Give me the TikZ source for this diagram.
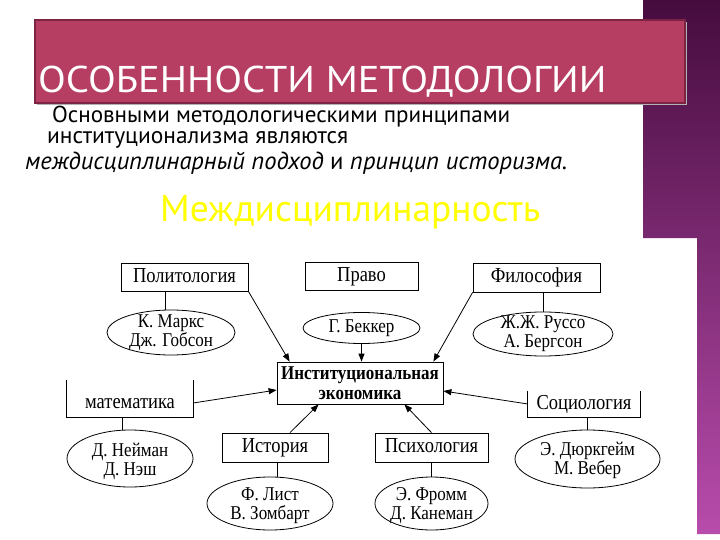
\documentclass[tikz,border=0pt]{standalone}
\usepackage{fontspec}
\usepackage{graphicx}
\usetikzlibrary{shapes.geometric,arrows.meta,calc}
\setmainfont{Liberation Serif}
\newfontfamily\bodyfont{PT Sans}
\newfontfamily\headfont{PT Sans}
\definecolor{titlebar}{RGB}{181,62,98}
\definecolor{titleedge}{RGB}{125,35,68}
\definecolor{plumtop}{RGB}{70,12,62}
\definecolor{plumbot}{RGB}{184,76,172}
\definecolor{sunyellow}{RGB}{255,255,0}
\newcommand\vs[1]{\scalebox{1}[1.15]{#1}}
\begin{document}
\begin{tikzpicture}[x=1pt,y=-1pt,
  box/.style={draw, line width=0.8pt, inner sep=0pt, text height=14pt, text depth=4pt,
    font=\fontsize{18.5}{20}\selectfont},
  openbox/.style={inner sep=0pt, text height=14pt, text depth=4pt, font=\fontsize{18.5}{20}\selectfont},
  pers/.style={draw, ellipse, line width=0.8pt, inner sep=0pt},
  ptext/.style={align=center, inner sep=0pt, font=\fontsize{17}{19}\selectfont},
  link/.style={line width=0.8pt},
  arr/.style={line width=0.8pt, -{Triangle[length=8pt,width=6pt]}},
  headtext/.style={anchor=base west, inner sep=0pt},
]
\useasboundingbox (0,0) rectangle (720,540);
\fill[white] (0,0) rectangle (720,540);
% purple side bar
\shade[top color=plumtop, bottom color=plumbot]
  (643,0) -- (720,0) -- (720,534) -- (697,534) -- (697,238) -- (643,238) -- cycle;
% title bar
\fill[black!30] (37,22) rectangle (687,105);
\fill[titlebar] (35,20) rectangle (685,103);
\draw[titleedge, line width=1.2pt] (35,20) rectangle (685,103);
\node[headtext, text=white] (title) at (38,93)
  {\resizebox{568pt}{26.5pt}{\headfont ОСОБЕННОСТИ МЕТОДОЛОГИИ}};
% body text
\node[headtext] (t1) at (52,123) {\resizebox{458pt}{!}{\bodyfont Основными методологическими принципами}};
\node[headtext] (t2) at (47,144) {\resizebox{301pt}{!}{\bodyfont институционализма являются}};
\node[headtext] (t3) at (25,170) {\resizebox{542pt}{!}{\bodyfont\itshape междисциплинарный подход\upshape{} и \itshape принцип историзма.}};
\node[headtext, text=sunyellow] (mezh) at (160,222) {\resizebox{380pt}{!}{\bodyfont Междисциплинарность}};
% diagram
\node[box, minimum width=127pt, minimum height=28pt] (pol) at (184.5,277) {\vs{Политология}};
\node[box, minimum width=113pt, minimum height=28pt] (pravo) at (361.5,276) {\vs{Право}};
\node[box, minimum width=127pt, minimum height=29pt] (fil) at (536.5,277.5) {\vs{Философия}};
\node[pers, minimum width=128pt, minimum height=45pt] (marx) at (171,332.5) {};
\node[ptext] (marxt) at (marx.center) {\vs{К. Маркс}\\\vs{Дж. Гобсон}};
\node[pers, minimum width=117pt, minimum height=31pt] (becker) at (361.5,328) {};
\node[ptext] (beckert) at (becker.center) {\vs{Г. Беккер}};
\node[pers, minimum width=140pt, minimum height=44pt] (russo) at (543,334) {};
\node[ptext] (russot) at (russo.center) {\vs{Ж.Ж. Руссо}\\\vs{А. Бергсон}};
\node[draw, line width=0.8pt, minimum width=166pt, minimum height=42pt, align=center,
  inner sep=0pt, font=\bfseries\fontsize{17}{20}\selectfont] (inst) at (360,383)
  {\vs{Институциональная}\\\vs{экономика}};
\node[openbox, minimum width=126pt, minimum height=28pt] (mat) at (130,403) {\vs{математика}};
\draw[link] ([yshift=9pt]mat.north west) -- (mat.south west) -- (mat.south east) -- ([yshift=9pt]mat.north east);
\node[openbox, minimum width=112pt, minimum height=26pt] (soc) at (584,404) {\vs{Социология}};
\draw[link] (soc.north west) -- (soc.south west) -- (soc.south east) -- (soc.north east);
\node[pers, minimum width=126pt, minimum height=57pt] (ney) at (130,458.5) {};
\node[ptext] (neyt) at (130,461) {\vs{Д. Нейман}\\\vs{Д. Нэш}};
\node[pers, minimum width=145pt, minimum height=58pt] (durk) at (587.5,459) {};
\node[ptext] (durkt) at (587.5,460) {\vs{Э. Дюркгейм}\\\vs{М. Вебер}};
\node[box, minimum width=106pt, minimum height=29pt] (ist) at (275,447.5) {\vs{История}};
\node[box, minimum width=113pt, minimum height=29pt] (psy) at (431.5,447.5) {\vs{Психология}};
\node[pers, minimum width=126pt, minimum height=53pt] (list) at (270,503.5) {};
\node[ptext] (listt) at (270,506) {\vs{Ф. Лист}\\\vs{В. Зомбарт}};
\node[pers, minimum width=113pt, minimum height=53pt] (fromm) at (431.5,503.5) {};
\node[ptext] (frommt) at (431.5,506) {\vs{Э. Фромм}\\\vs{Д. Канеман}};
% plain links
\draw[link] ([xshift=-19.5pt]pol.south) -- ([xshift=-19.5pt]pol.south |- marx.north);
\draw[link] (russo.north |- fil.south) -- (russo.north);
\draw[link] ([xshift=-8pt]mat.south) -- ([xshift=-8pt]mat.south |- ney.north);
\draw[link] ([xshift=2pt]ist.south) -- ([xshift=2pt]ist.south |- list.north);
\draw[link] (psy.south) -- (fromm.north);
\draw[link] (durk.north |- soc.south) -- (durk.north);
% arrows
\draw[arr] (pol.south east) -- ([xshift=13pt]inst.north west);
\draw[arr] (becker.south) -- (becker.south |- inst.north);
\draw[arr] (fil.south west) -- ([xshift=-10pt]inst.north east);
\draw[arr] (mat.east) -- ([yshift=-7pt]inst.west);
\draw[arr] (soc.west) -- ([yshift=-8pt]inst.east);
\draw[arr] ([xshift=15pt]ist.north) -- ([xshift=42pt]inst.south west);
\draw[arr] (psy.north) -- ([xshift=-39pt]inst.south east);
\end{tikzpicture}
\end{document}
